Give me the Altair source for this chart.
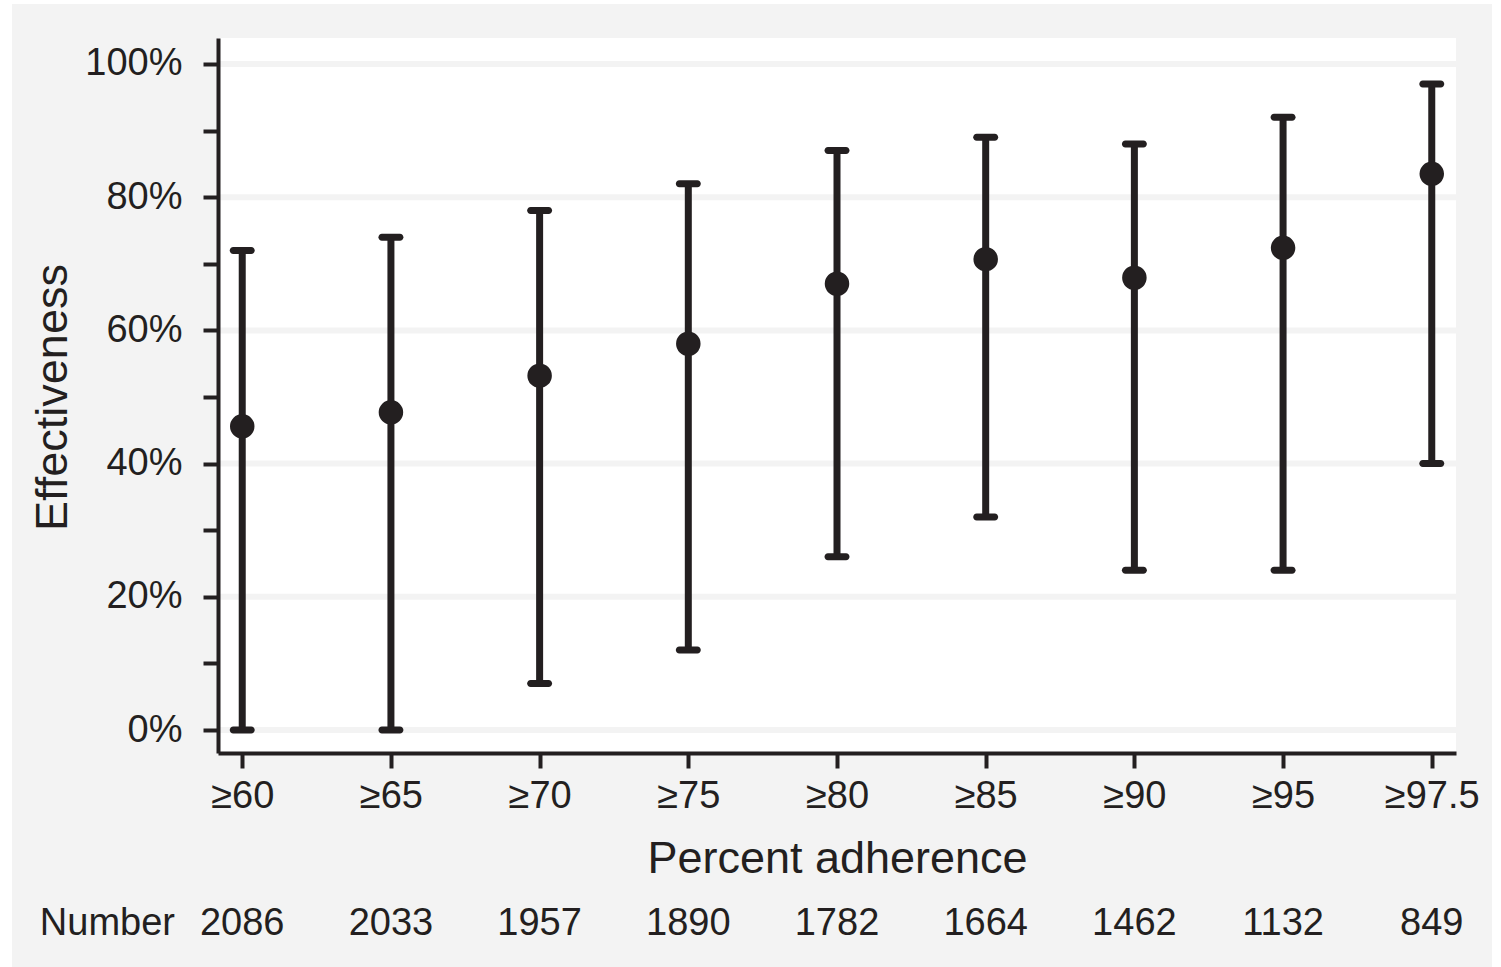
import altair as alt
import pandas as pd

categories = ["≥60", "≥65", "≥70", "≥75", "≥80", "≥85", "≥90", "≥95", "≥97.5"]
estimate = [45.6, 47.7, 53.2, 58.0, 67.0, 70.7, 67.9, 72.4, 83.5]
ci_low = [0, 0, 7, 12, 26, 32, 24, 24, 40]
ci_high = [72, 74, 78, 82, 87, 89, 88, 92, 97]
numbers = ["2086", "2033", "1957", "1890", "1782", "1664", "1462", "1132", "849"]
grid_values = [0, 20, 40, 60, 80, 100]
tick_values = [0, 10, 20, 30, 40, 50, 60, 70, 80, 90, 100]

df = pd.DataFrame({"cat": categories, "est": estimate, "lo": ci_low, "hi": ci_high, "n": numbers})
grid_df = pd.DataFrame({"g": grid_values})

W, H = 1238, 715
INK = "#231f20"
BG = "#f3f3f3"
FONT = "Liberation Sans"

yscale = alt.Scale(domain=[-3.45, 103.9], nice=False, zero=False)
xscale = alt.Scale(type="point", padding=0.163)

x_axis = alt.Axis(title="Percent adherence", labelAngle=0, labelFontSize=38,
                  labelFont=FONT, labelColor=INK, labelBaseline="alphabetic",
                  labelPadding=39, tickSize=15, tickWidth=4, tickColor=INK,
                  domainColor=INK, domainWidth=4, titleFontSize=45,
                  titleFont=FONT, titleFontWeight="normal", titleColor=INK,
                  titleBaseline="alphabetic", titleY=119, grid=False, zindex=1)
y_axis = alt.Axis(title="Effectiveness", values=tick_values,
                  labelExpr="datum.value % 20 == 0 ? datum.value + '%' : ''",
                  labelFontSize=38, labelFont=FONT, labelColor=INK, labelPadding=21,
                  tickSize=15, tickWidth=4, tickColor=INK, domainColor=INK,
                  domainWidth=4, titleFontSize=45, titleFont=FONT,
                  titleFontWeight="normal", titleColor=INK, titleAngle=-90,
                  titleBaseline="alphabetic", titleAlign="center",
                  titleX=-152, titleY=359, grid=False, zindex=1)


def X():
    return alt.X("cat:O", sort=categories, scale=xscale, axis=x_axis)


def Y(field):
    return alt.Y(field, scale=yscale, axis=y_axis)


one = pd.DataFrame({"a": [0]})
bg = alt.Chart(one).mark_rect(color=BG).encode(
    x=alt.value(12 - 218), x2=alt.value(1492 - 218),
    y=alt.value(4 - 38), y2=alt.value(967 - 38 + 5))
plot_bg = alt.Chart(one).mark_rect(color="white").encode(
    x=alt.value(0), x2=alt.value(W), y=alt.value(0), y2=alt.value(H))
grid = alt.Chart(grid_df).mark_rule(color=BG, strokeWidth=6).encode(
    y=Y("g:Q"), x=alt.value(0), x2=alt.value(W))

base = alt.Chart(df)
bars = base.mark_rule(color=INK, strokeWidth=7).encode(x=X(), y=Y("lo:Q"), y2="hi:Q")
cap_lo = base.mark_tick(color=INK, orient="horizontal", size=25, thickness=7,
                        cornerRadius=3.5, opacity=1).encode(x=X(), y=Y("lo:Q"))
cap_hi = base.mark_tick(color=INK, orient="horizontal", size=25, thickness=7,
                        cornerRadius=3.5, opacity=1).encode(x=X(), y=Y("hi:Q"))
pts = base.mark_circle(color=INK, size=600, opacity=1).encode(x=X(), y=Y("est:Q"))
ntext = base.mark_text(font=FONT, fontSize=38, color=INK, baseline="alphabetic",
                       align="center").encode(x=X(), y=alt.value(897), text="n:N")
nlabel = alt.Chart(pd.DataFrame({"t": ["Number"]})).mark_text(
    font=FONT, fontSize=38, color=INK, baseline="alphabetic", align="right").encode(
    x=alt.value(-43), y=alt.value(897), text="t:N")

chart = alt.layer(bg, plot_bg, grid, bars, cap_lo, cap_hi, pts, ntext, nlabel).properties(
    width=W, height=H,
    autosize=alt.AutoSizeParams(type="none"),
    padding={"left": 218, "top": 38, "right": 45, "bottom": 214},
    background="white",
).configure_view(stroke=None)

chart.save("out.html", embed_options={"renderer": "svg", "actions": False})
